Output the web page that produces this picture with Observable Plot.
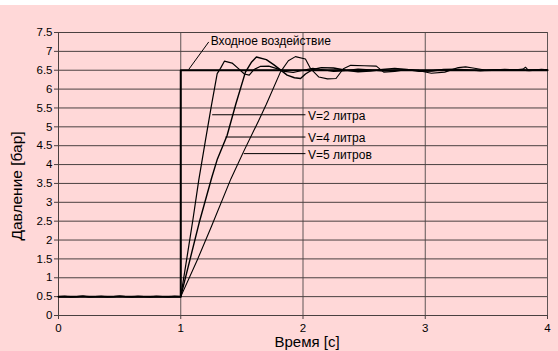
<!DOCTYPE html>
<html>
<head>
<meta charset="utf-8">
<script src="https://cdn.jsdelivr.net/npm/d3@7"></script>
<script src="https://cdn.jsdelivr.net/npm/@observablehq/plot@0.6"></script>
<style>
  html, body { margin: 0; padding: 0; background: #ffffff; }
  body { padding-top: 5px; width: 558px; height: 346px; overflow: hidden; }
  #chart svg { display: block; }
</style>
</head>
<body>
<div id="chart"></div>
<script>
// ---- tick labels ----
const xTicks = [0, 1, 2, 3, 4];
const yTicks = [0, 0.5, 1, 1.5, 2, 2.5, 3, 3.5, 4, 4.5, 5, 5.5, 6, 6.5, 7, 7.5];

// ---- input step ----
const inputT = [0, 1, 1, 4];
const inputP = [0.5, 0.5, 6.5, 6.5];

// ---- shared measured baseline (before the step) ----
const baseT = [0, 0.05, 0.1, 0.15, 0.2, 0.25, 0.3, 0.35, 0.4, 0.45, 0.5, 0.55, 0.6, 0.65, 0.7, 0.75, 0.8, 0.85, 0.9, 0.95];
const baseP = [0.50, 0.505, 0.495, 0.50, 0.51, 0.495, 0.50, 0.505, 0.495, 0.50, 0.51, 0.50, 0.495, 0.505, 0.50, 0.495, 0.505, 0.50, 0.495, 0.505];

// ---- V = 2 litres ----
const v2T = [1.00, 1.05, 1.10, 1.147, 1.20, 1.25, 1.298, 1.325, 1.357, 1.42, 1.47, 1.52, 1.56, 1.60, 1.65, 1.72, 1.78, 1.85, 1.92, 2.00, 2.08, 2.15, 2.25, 2.35, 2.45, 2.55, 2.65, 2.75, 2.85, 2.95, 3.05, 3.15, 3.25, 3.35, 3.45, 3.55, 3.65, 3.75, 3.85, 3.95, 4.00];
const v2P = [0.50, 1.52, 2.55, 3.58, 4.60, 5.55, 6.41, 6.55, 6.74, 6.69, 6.55, 6.40, 6.37, 6.52, 6.60, 6.61, 6.55, 6.47, 6.44, 6.50, 6.55, 6.52, 6.47, 6.49, 6.53, 6.51, 6.48, 6.50, 6.52, 6.50, 6.49, 6.51, 6.52, 6.50, 6.49, 6.51, 6.50, 6.52, 6.50, 6.51, 6.50];

// ---- V = 4 litres ----
const v4T = [1.00, 1.077, 1.15, 1.253, 1.30, 1.379, 1.45, 1.529, 1.58, 1.619, 1.70, 1.76, 1.80, 1.87, 1.93, 1.98, 2.02, 2.08, 2.15, 2.25, 2.35, 2.45, 2.55, 2.65, 2.75, 2.85, 2.95, 3.05, 3.15, 3.25, 3.35, 3.45, 3.55, 3.65, 3.75, 3.85, 3.95, 4.00];
const v4P = [0.50, 1.50, 2.45, 3.65, 4.15, 4.77, 5.60, 6.45, 6.72, 6.85, 6.78, 6.65, 6.55, 6.37, 6.30, 6.28, 6.40, 6.52, 6.57, 6.56, 6.50, 6.46, 6.48, 6.52, 6.55, 6.52, 6.47, 6.48, 6.52, 6.53, 6.51, 6.49, 6.50, 6.52, 6.51, 6.49, 6.52, 6.51];

// ---- V = 5 litres ----
const v5T = [1.00, 1.139, 1.25, 1.41, 1.515, 1.638, 1.70, 1.815, 1.88, 1.938, 2.02, 2.06, 2.13, 2.20, 2.27, 2.33, 2.39, 2.50, 2.60, 2.66, 2.75, 2.85, 2.96, 3.05, 3.16, 3.27, 3.33, 3.39, 3.50, 3.60, 3.70, 3.80, 3.82, 3.84, 3.90, 4.00];
const v5P = [0.50, 1.50, 2.35, 3.62, 4.35, 5.17, 5.60, 6.45, 6.75, 6.86, 6.80, 6.55, 6.32, 6.27, 6.28, 6.54, 6.63, 6.62, 6.61, 6.45, 6.47, 6.52, 6.48, 6.42, 6.45, 6.57, 6.59, 6.56, 6.50, 6.52, 6.50, 6.53, 6.58, 6.51, 6.51, 6.52];

// ---- texts ----
const inputLabel = "Входное воздействие";
const seriesLabels = ["V=2 литра", "V=4 литра", "V=5 литров"];
const xTitle = "Время [с]";
const yTitle = "Давление [бар]";

// build tables
const series = (ts, ps) => baseT.map((t, i) => ({t, p: baseP[i]})).concat(ts.map((t, i) => ({t, p: ps[i]})));
const s2 = series(v2T, v2P);
const s4 = series(v4T, v4P);
const s5 = series(v5T, v5P);
const inputData = inputT.map((t, i) => ({t, p: inputP[i]}));

const font = "'Liberation Sans', Arial, sans-serif";

const chart = Plot.plot({
  width: 558,
  height: 346,
  marginLeft: 58,
  marginRight: 11,
  marginTop: 27,
  marginBottom: 36,
  x: {domain: [0, 4]},
  y: {domain: [0, 7.5]},
  style: {background: "#FFD8D8", fontFamily: font, fontSize: "11.5px", color: "#000", overflow: "visible"},
  marks: [
    Plot.gridX(xTicks, {stroke: "#5e5555", strokeOpacity: 1}),
    Plot.gridY(yTicks, {stroke: "#4a4040", strokeOpacity: 1}),
    Plot.ruleX([0], {stroke: "#4a4040"}),
    Plot.ruleY([0], {stroke: "#4a4040"}),
    Plot.axisX({ticks: xTicks, tickSize: 4, tickPadding: 4, label: null, tickFormat: d => String(d), stroke: "#4a4040"}),
    Plot.axisY({ticks: yTicks, tickSize: 4, tickPadding: 2, label: null, tickFormat: d => String(d), stroke: "#4a4040"}),
    Plot.line(s5, {x: "t", y: "p", stroke: "#000", strokeWidth: 1.1}),
    Plot.line(s4, {x: "t", y: "p", stroke: "#000", strokeWidth: 1.4}),
    Plot.line(s2, {x: "t", y: "p", stroke: "#000", strokeWidth: 1.2}),
    Plot.line(inputData, {x: "t", y: "p", stroke: "#000", strokeWidth: 2}),
    // annotation pointers
    Plot.link([inputLabel], {x1: 1.065, y1: 6.52, x2: 1.229, y2: 7.25, stroke: "#000", strokeWidth: 1}),
    Plot.text([inputLabel], {x: 1.245, y: 7.28, text: d => d, textAnchor: "start", fontSize: 12, fill: "#000"}),
    Plot.link([seriesLabels[0]], {x1: 1.257, y1: 5.32, x2: 2.02, y2: 5.32, stroke: "#000", strokeWidth: 1}),
    Plot.link([seriesLabels[1]], {x1: 1.366, y1: 4.73, x2: 2.02, y2: 4.73, stroke: "#000", strokeWidth: 1}),
    Plot.link([seriesLabels[2]], {x1: 1.515, y1: 4.29, x2: 2.02, y2: 4.29, stroke: "#000", strokeWidth: 1}),
    Plot.text([seriesLabels[0]], {x: 2.04, y: 5.28, text: d => d, textAnchor: "start", fontSize: 12, fill: "#000"}),
    Plot.text([seriesLabels[1]], {x: 2.04, y: 4.70, text: d => d, textAnchor: "start", fontSize: 12, fill: "#000"}),
    Plot.text([seriesLabels[2]], {x: 2.04, y: 4.26, text: d => d, textAnchor: "start", fontSize: 12, fill: "#000"}),
    // axis titles
    Plot.text([xTitle], {frameAnchor: "bottom", lineAnchor: "middle", textAnchor: "middle", dy: 27, dx: 4, text: d => d, fontSize: 15, fill: "#000"}),
    Plot.text([yTitle], {frameAnchor: "left", lineAnchor: "middle", textAnchor: "middle", dx: -41, dy: 12, rotate: -90, text: d => d, fontSize: 15.5, fill: "#000"})
  ]
});
document.getElementById("chart").appendChild(chart);
</script>
</body>
</html>
